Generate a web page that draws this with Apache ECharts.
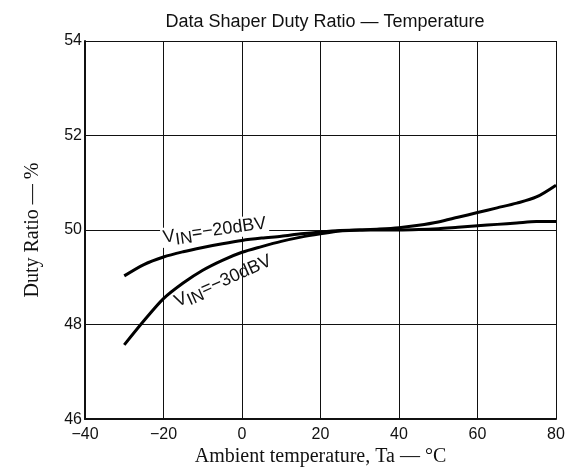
<!DOCTYPE html>
<html><head><meta charset="utf-8">
<script src="https://cdn.jsdelivr.net/npm/echarts@6/dist/echarts.min.js"></script>
<style>html,body{margin:0;padding:0;background:#fff}#c{width:574px;height:472px}</style>
</head><body><div id="c"></div>
<script>
const temps = [-30,-25,-20,-15,-10,-5,0,5,10,15,20,25,30,35,40,45,50,55,60,65,70,75,80];
const ratio20 = [49.03,49.27,49.43,49.54,49.63,49.71,49.78,49.83,49.87,49.92,49.96,49.99,50.0,50.0,50.0,50.01,50.03,50.06,50.09,50.12,50.15,50.18,50.18];
const ratio30 = [47.57,48.08,48.55,48.88,49.15,49.36,49.53,49.65,49.76,49.85,49.92,49.98,50.0,50.02,50.05,50.1,50.17,50.27,50.37,50.47,50.57,50.7,50.95];
const xTicks = [-40,-20,0,20,40,60,80];
const yTicks = [46,48,50,52,54];
const label20 = {x:-20.6, y:49.83, angle:8, text:'=\u221220dBV'};
const label30 = {x:-17.4, y:48.45, angle:24, text:'=\u221230dBV'};

const chart = echarts.init(document.getElementById('c'), null, {renderer:'canvas'});
const sans = 'Liberation Sans, Arial, sans-serif';
const serif = 'Liberation Serif, Times New Roman, serif';
chart.setOption({
  animation:false,
  backgroundColor:'#fff',
  title:{text:'Data Shaper Duty Ratio \u2014 Temperature', left:320, textAlign:'center', top:8,
    textStyle:{fontFamily:sans, fontSize:18, fontWeight:'normal', color:'#111'}},
  grid:{left:85, right:18, top:41, bottom:48},
  xAxis:{type:'value', min:-40, max:80, interval:20,
    name:'Ambient temperature, Ta \u2014 \u00b0C', nameLocation:'middle', nameGap:27,
    nameTextStyle:{fontFamily:serif, fontSize:20, color:'#111'},
    axisLine:{show:true, onZero:false, lineStyle:{color:'#111', width:2}},
    axisTick:{show:false},
    axisLabel:{fontFamily:sans, fontSize:16, color:'#111', margin:7,
      formatter:v=>xTicks.includes(v)?String(v).replace('-','\u2212'):''},
    splitLine:{show:true, lineStyle:{color:'#111', width:1}}},
  yAxis:{type:'value', min:46, max:54, interval:2,
    name:'Duty Ratio \u2014 %', nameLocation:'middle', nameGap:42, nameRotate:90,
    nameTextStyle:{fontFamily:serif, fontSize:20, color:'#111'},
    axisLine:{show:true, onZero:false, lineStyle:{color:'#111', width:2}},
    axisTick:{show:false},
    axisLabel:{fontFamily:sans, fontSize:16, color:'#111', margin:3,
      formatter:v=>yTicks.includes(v)?String(v):''},
    splitLine:{show:true, lineStyle:{color:'#111', width:1}}},
  series:[
    {type:'line', name:'VIN=-20dBV', data:temps.map((t,i)=>[t,ratio20[i]]), smooth:0.3,
     showSymbol:false, lineStyle:{color:'#000', width:3}, z:5},
    {type:'line', name:'VIN=-30dBV', data:temps.map((t,i)=>[t,ratio30[i]]), smooth:0.3,
     showSymbol:false, lineStyle:{color:'#000', width:3}, z:5}
  ]
});

function mkLabel(l, bg){
  const p = chart.convertToPixel({gridIndex:0}, [l.x, l.y]);
  return {type:'text', x:p[0], y:p[1], rotation:l.angle*Math.PI/180, z:3,
    style:{text:'{v|V}{s|IN}{v|'+l.text+'}', x:0, y:0, verticalAlign:'middle', align:'left',
      backgroundColor: bg ? '#fff' : null, padding:[0,2,0,2],
      rich:{v:{fontFamily:sans, fontSize:18, fill:'#111', lineHeight:20},
            s:{fontFamily:sans, fontSize:17, fill:'#111', padding:[8,0,0,0], lineHeight:20}}}};
}
chart.setOption({graphic:[mkLabel(label20,true), mkLabel(label30,false)]});
</script></body></html>
